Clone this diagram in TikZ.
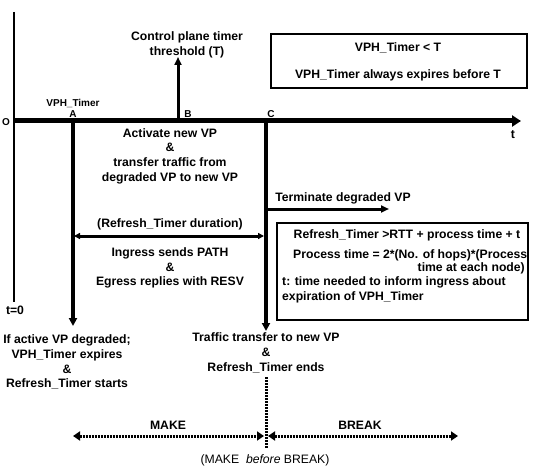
\documentclass[tikz,border=0pt]{standalone}
\usepackage{fontspec}
\setmainfont{Liberation Sans}
\usetikzlibrary{arrows.meta}
\begin{document}
\begin{tikzpicture}[x=1pt,y=-1pt,
  txt/.style={font=\fontsize{12.2}{14.7}\selectfont\bfseries, inner sep=0pt, align=center},
  plain/.style={font=\fontsize{12.2}{14.7}\selectfont, inner sep=0pt, align=center},
  tag/.style={font=\fontsize{10}{12}\selectfont\bfseries, inner sep=0pt},
  axis/.style={line width=5pt, -{Triangle[length=9pt,width=11pt]}},
  timeline/.style={line width=3.5pt, -{Triangle[length=8pt,width=8pt]}},
  event/.style={line width=3pt, -{Triangle[length=8pt,width=7pt]}},
  span/.style={line width=3pt, {Triangle[length=6pt,width=6pt]}-{Triangle[length=6pt,width=6pt]}},
  dotline/.style={line width=3pt, dash pattern=on 2pt off 1pt},
  dotspan/.style={dotline, {Triangle[length=7pt,width=9pt]}-{Triangle[length=7pt,width=9pt]}},
  infobox/.style={draw, line width=1.2pt, inner sep=0pt}
]
\useasboundingbox (0,0) rectangle (533,468);

% time axis and origin
\coordinate (top) at (14,12);
\coordinate (origin) at (14,121);
\coordinate (bottom) at (14,302);
\coordinate (tend) at (521,121);
\draw[line width=2.5pt] (top) -- (bottom);
\draw[axis] (origin) -- (tend);
\node[tag] (o) at (6,122) {O};
\node[txt] (tlabel) at (513,135) {t};
\node[txt] (tzero) at (15,310) {t=0};

% instants A, B, C on the axis
\coordinate (a) at (73,121);
\coordinate (b) at (178,121);
\coordinate (c) at (266,121);
\node[tag] (vph) at (73,103) {VPH\_Timer};
\node[tag] (alabel) at (73,114) {A};
\node[tag] (blabel) at (188,114) {B};
\node[tag] (clabel) at (271,114) {C};

% threshold T
\coordinate (bup) at (178,57);
\draw[event] (b) -- (bup);
\node[txt] (ctrl) at (187,45) {Control plane timer\\threshold (T)};

% VPH timer condition box
\node[infobox, minimum width=256pt, minimum height=54pt] (box1) at (399,61) {};
\node[txt] (cond1) at (398,48) {VPH\_Timer < T};
\node[txt] (cond2) at (398,75) {VPH\_Timer always expires before T};

% vertical timelines from A and C
\coordinate (aend) at (73,326);
\coordinate (cend) at (266,331);
\draw[timeline] (a) -- (aend);
\draw[timeline] (c) -- (cend);

\node[txt] (activate) at (170,156) {Activate new VP\\\&\\transfer traffic from\\degraded VP to new VP};

% terminate degraded VP
\coordinate (cterm) at (266,209);
\coordinate (term) at (389,209);
\draw[event] (cterm) -- (term);
\node[txt] (terminate) at (343,198) {Terminate degraded VP};

% refresh timer duration
\coordinate (rl) at (74,236);
\coordinate (rr) at (264,236);
\draw[span] (rl) -- (rr);
\node[txt] (duration) at (170,224) {(Refresh\_Timer duration)};
\node[txt] (ingress) at (170,268) {Ingress sends PATH\\\&\\Egress replies with RESV};

% refresh timer condition box
\node[infobox, minimum width=251pt, minimum height=97pt] (box2) at (402.5,271.5) {};
\node[txt] (r1) at (407,235) {Refresh\_Timer >RTT + process time + t};
\node[txt, anchor=west] (r2) at (293,255) {Process time = 2*(No. of hops)*(Process};
\node[txt, anchor=east] (r3) at (525,268) {time at each node)};
\node[txt, anchor=west] (r4) at (282,282) {t: time needed to inform ingress about};
\node[txt, anchor=west] (r5) at (282,297) {expiration of VPH\_Timer};

% outcomes
\node[txt] (start) at (67,362) {If active VP degraded;\\VPH\_Timer expires\\\&\\Refresh\_Timer starts};
\node[txt] (transfer) at (266,353) {Traffic transfer to new VP\\\&\\Refresh\_Timer ends};

% make before break
\coordinate (dtop) at (266,377);
\coordinate (dbot) at (266,448);
\draw[dotline] (dtop) -- (dbot);
\coordinate (ml) at (73,436);
\coordinate (mr) at (264,436);
\coordinate (bl) at (268,436);
\coordinate (br) at (458,436);
\draw[dotspan] (ml) -- (mr);
\draw[dotspan] (bl) -- (br);
\node[txt] (make) at (168,425) {MAKE};
\node[txt] (break) at (360,425) {BREAK};
\node[plain] (mbb) at (265,460) {(MAKE \ \textit{before} BREAK)};
\end{tikzpicture}
\end{document}
